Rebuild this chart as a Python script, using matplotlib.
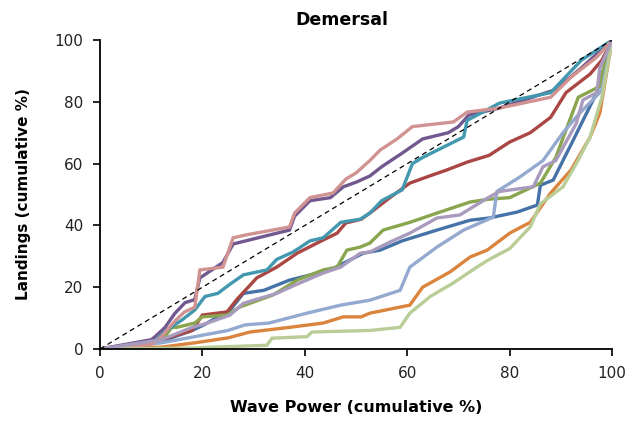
import numpy as np
import matplotlib
matplotlib.use("Agg")
import matplotlib.pyplot as plt

# cumulative curves, (x, y)
blue_x = [0, 12, 18, 20.5, 25.4, 28, 32, 37, 45, 51.4, 54.7, 59, 65.8, 72.3, 76, 81.4, 85.4, 86, 88.5, 92.4, 97, 100]
blue_y = [0, 2.5, 6, 8, 12.6, 18, 19, 22.3, 25.6, 31, 32, 35, 38.5, 41.7, 42.4, 44.3, 46.6, 53, 54.7, 67.6, 83, 100]

red_x = [0, 12, 18, 20, 24.8, 26.7, 30.6, 34.5, 38.5, 42.4, 46.3, 48, 51, 52.7, 56.6, 60.5, 64, 67.8, 71.7, 76, 80, 84, 88, 91, 95.7, 98, 100]
red_y = [0, 3, 6, 11, 12, 16, 23, 26.5, 31, 34.3, 37.5, 40.8, 42, 44, 49, 53.7, 55.8, 58, 60.5, 62.7, 67, 70, 75, 83, 89, 93.5, 100]

green_x = [0, 12, 14, 15, 18.5, 20, 24.8, 27.3, 33.8, 38.5, 43.6, 46.3, 48.2, 50.8, 52.7, 55.3, 60.5, 65.8, 72.3, 76, 80, 86, 89, 93.4, 97.6, 98.6, 100]
green_y = [0, 2.5, 7, 7, 8.4, 10.4, 11, 13.6, 17.5, 22.3, 25.6, 26.5, 32, 33, 34.3, 38.5, 41, 44, 47.6, 48.5, 49, 53.7, 62, 81.5, 85, 92.5, 100]

purple_x = [0, 10, 10.7, 12.7, 14.6, 16.6, 18.5, 19.5, 24, 26, 37, 38, 41, 45, 47.5, 50, 52.7, 55, 59, 63, 68, 70, 72, 78, 89, 94, 100]
purple_y = [0, 3, 3.9, 7, 11.5, 15, 16, 23, 28, 34, 38.5, 43, 48, 49, 52.5, 54, 56, 59, 63.4, 68, 70, 72, 75.7, 78, 84, 91, 100]

teal_x = [0, 10, 13, 16, 18.5, 20.5, 23, 25.4, 28, 32.6, 34.5, 37.7, 41, 43.6, 47, 50.8, 52.7, 55, 59, 61, 63, 71, 71.7, 78, 88, 94, 100]
teal_y = [0, 1.5, 6, 9.4, 12.6, 17, 18, 21, 24, 25.6, 29, 31.4, 35, 36, 41, 42, 44, 48, 51.5, 60, 62, 68.6, 74, 79.6, 83, 93.5, 100]

orange_x = [0, 12, 18.5, 25, 29.3, 37, 43.6, 47.5, 51, 52.7, 60.5, 63, 68.4, 72.3, 75.6, 78, 80, 84, 88, 92, 95.7, 97.6, 100]
orange_y = [0, 0.6, 2, 3.6, 5.5, 7, 8.4, 10.4, 10.4, 11.6, 14.2, 20, 25, 29.8, 32, 35, 37.5, 41, 50.5, 58, 68.6, 76.4, 100]

ltblue_x = [0, 12, 18.5, 25, 28.3, 33, 40.4, 47, 52.7, 58.6, 60.5, 65.8, 71, 76.8, 77.5, 82, 86.5, 90.4, 93.7, 97.6, 98, 100]
ltblue_y = [0, 2, 4, 6, 7.8, 8.4, 11.6, 14.2, 15.8, 19, 26.5, 33, 38.5, 42.7, 51, 55.7, 61, 70, 76.4, 83, 84, 100]

pink_x = [0, 10, 12, 14.6, 16.5, 18.5, 19.5, 24, 26, 28.7, 37, 38, 41, 45.5, 48, 50, 52.7, 54.7, 58, 61, 69, 71.7, 78, 88, 92, 97, 100]
pink_y = [0, 1.5, 4, 9, 12, 13.5, 25.6, 26.5, 36, 37, 39.5, 44, 49, 50.5, 55, 57, 61, 64.4, 68, 72, 73.5, 76.7, 78, 81.5, 88, 94.5, 100]

ltgreen_x = [0, 18, 22, 32.6, 33.6, 40.4, 41.4, 52.7, 58.6, 60.5, 64.5, 69, 73.6, 76, 80, 84, 86, 90.4, 93, 95.7, 98, 100]
ltgreen_y = [0, 0.3, 0.6, 1.2, 3.5, 4, 5.5, 6, 7, 11.6, 17, 21.4, 26.5, 29, 32.5, 39.5, 47, 52.5, 60, 68.6, 81.5, 100]

lavender_x = [0, 12, 18, 21, 25.4, 28, 34.5, 38.5, 43.6, 47, 50.8, 52.7, 56.6, 60.5, 65.8, 70.3, 75.6, 78, 84.6, 86.5, 89, 93, 94.3, 97, 97.6, 100]
lavender_y = [0, 3, 7, 8.4, 11, 14.8, 18, 21, 24.6, 26.5, 31, 31.4, 34.6, 37.5, 42.4, 43.4, 48.8, 51, 52.5, 59, 61, 73, 80.6, 83, 91, 100]

series = [
    (blue_x, blue_y, "#4572A7"),
    (red_x, red_y, "#AA4643"),
    (green_x, green_y, "#89A54E"),
    (purple_x, purple_y, "#71588F"),
    (teal_x, teal_y, "#4198AF"),
    (orange_x, orange_y, "#DB843D"),
    (ltblue_x, ltblue_y, "#93A9CF"),
    (pink_x, pink_y, "#D19392"),
    (ltgreen_x, ltgreen_y, "#B9CD96"),
    (lavender_x, lavender_y, "#A99BBD"),
]

fig = plt.figure(figsize=(6.33, 4.22), dpi=100)
ax = fig.add_axes([0.158, 0.173, 0.809, 0.732])

for xs, ys, c in series:
    ax.plot(xs, ys, color=c, lw=2.4, solid_joinstyle="miter")

ax.plot([0, 100], [0, 100], color="black", lw=0.9, ls=(0, (4, 3)))

ax.set_xlim(0, 100)
ax.set_ylim(0, 100)
ax.set_xticks(range(0, 101, 20))
ax.set_yticks(range(0, 101, 20))
ax.spines["top"].set_visible(False)
ax.spines["right"].set_visible(False)
ax.spines["left"].set_linewidth(1.3)
ax.spines["bottom"].set_linewidth(1.3)
ax.tick_params(direction="out", length=5, width=1.2, labelsize=11, pad=7, labelcolor="#222222")

ax.set_xlabel("Wave Power (cumulative %)", fontsize=11.5, fontweight="bold", labelpad=14)
ax.set_ylabel("Landings (cumulative %)", fontsize=11, fontweight="bold", labelpad=17)
fig.text(0.54, 0.952, "Demersal", ha="center", va="center", fontsize=12.5, fontweight="bold")

fig.savefig("out.png", dpi=100)
